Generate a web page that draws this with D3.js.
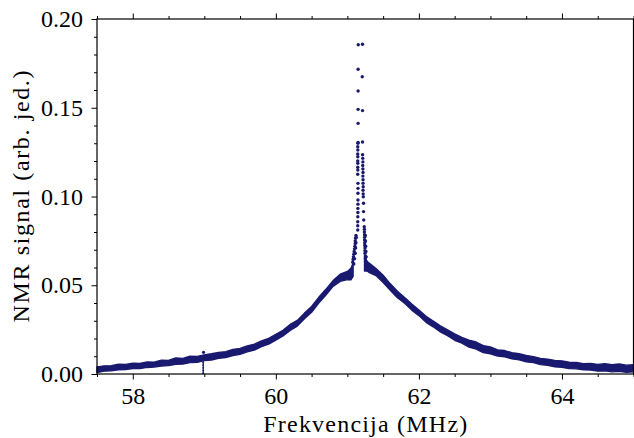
<!DOCTYPE html>
<html>
<head>
<meta charset="utf-8">
<script src="https://cdn.jsdelivr.net/npm/d3@7"></script>
<style>
  body { margin: 0; background: #fff; }
  svg { display: block; }
  .axis text { font-family: "Liberation Serif", "Times New Roman", serif; font-size: 24px; fill: #000; }
  .axis line { stroke: #000; stroke-width: 1; }
  .lbl { font-family: "Liberation Serif", "Times New Roman", serif; font-size: 24px; fill: #000; }
</style>
</head>
<body>
<div id="chart"></div>
<script>
const leftFreq = [57.5, 57.6, 57.7, 57.8, 57.9, 58.0, 58.1, 58.2, 58.3, 58.4, 58.5, 58.6, 58.7, 58.8, 58.9,
  59.0, 59.1, 59.2, 59.3, 59.4, 59.5, 59.6, 59.7, 59.8, 59.9, 60.0, 60.1, 60.2, 60.3, 60.4, 60.5,
  60.6, 60.7, 60.8, 60.9, 61.0, 61.05, 61.08];
const leftLo = [0.0008, 0.0016, 0.0018, 0.0024, 0.0025, 0.0031, 0.0030, 0.0037, 0.0039, 0.0045, 0.0047, 0.0055, 0.0056, 0.0064, 0.0066,
  0.0076, 0.0079, 0.0089, 0.0093, 0.0104, 0.0111, 0.0125, 0.0135, 0.0154, 0.0168, 0.0191, 0.0214, 0.0246, 0.0270, 0.0311, 0.0348,
  0.0400, 0.0445, 0.0494, 0.0522, 0.0532, 0.0530, 0.0550];
const leftHi = [0.0040, 0.0046, 0.0047, 0.0055, 0.0054, 0.0061, 0.0060, 0.0068, 0.0067, 0.0078, 0.0077, 0.0090, 0.0088, 0.0100, 0.0099,
  0.0108, 0.0114, 0.0121, 0.0126, 0.0138, 0.0144, 0.0158, 0.0168, 0.0186, 0.0201, 0.0224, 0.0246, 0.0279, 0.0302, 0.0343, 0.0380,
  0.0432, 0.0477, 0.0526, 0.0562, 0.0578, 0.0596, 0.0625];

const rightFreq = [61.24, 61.27, 61.3, 61.4, 61.5, 61.6, 61.7, 61.8, 61.9, 62.0, 62.1, 62.2, 62.3, 62.4, 62.5,
  62.6, 62.7, 62.8, 62.9, 63.0, 63.1, 63.2, 63.3, 63.4, 63.5, 63.6, 63.7, 63.8, 63.9, 64.0,
  64.1, 64.2, 64.3, 64.4, 64.5, 64.6, 64.7, 64.8, 64.9, 65.0];
const rightLo = [0.0580, 0.0582, 0.0573, 0.0555, 0.0515, 0.0472, 0.0430, 0.0399, 0.0360, 0.0329, 0.0291, 0.0266, 0.0237, 0.0216, 0.0190,
  0.0174, 0.0152, 0.0140, 0.0121, 0.0114, 0.0101, 0.0097, 0.0085, 0.0080, 0.0069, 0.0064, 0.0053, 0.0049, 0.0040, 0.0038,
  0.0030, 0.0029, 0.0023, 0.0022, 0.0016, 0.0018, 0.0012, 0.0015, 0.0010, 0.0013];
const rightHi = [0.0660, 0.0638, 0.0626, 0.0594, 0.0556, 0.0508, 0.0466, 0.0431, 0.0394, 0.0360, 0.0325, 0.0298, 0.0271, 0.0248, 0.0226,
  0.0206, 0.0190, 0.0180, 0.0160, 0.0152, 0.0136, 0.0132, 0.0120, 0.0114, 0.0104, 0.0098, 0.0088, 0.0084, 0.0076, 0.0074,
  0.0066, 0.0065, 0.0058, 0.0060, 0.0054, 0.0058, 0.0052, 0.0056, 0.0050, 0.0052];

// single resolved points of the sharp central peak
const peakFreq = [61.120, 61.115, 61.110, 61.110, 61.105, 61.100, 61.095, 61.090, 61.085, 61.080, 61.075,
  61.125, 61.120, 61.115, 61.110, 61.100, 61.090,
  61.145, 61.145, 61.145, 61.146, 61.147, 61.147, 61.148, 61.148, 61.148, 61.148, 61.148,
  61.145, 61.146, 61.145, 61.146, 61.145, 61.146, 61.145, 61.146, 61.145, 61.148, 61.150,
  61.150, 61.150, 61.150, 61.150, 61.152,
  61.212, 61.208, 61.212, 61.212,
  61.213, 61.215, 61.217, 61.215, 61.217, 61.219, 61.217, 61.219, 61.219, 61.221, 61.219, 61.221, 61.223,
  61.226, 61.226, 61.229,
  61.236, 61.238, 61.238, 61.241, 61.241, 61.241, 61.243, 61.243, 61.246, 61.246, 61.246, 61.251, 61.251, 61.256, 61.261,
  61.251, 61.253, 61.256, 61.259, 61.263];
const peakVal = [0.0780, 0.0765, 0.0750, 0.0735, 0.0720, 0.0705, 0.0690, 0.0675, 0.0660, 0.0645, 0.0630,
  0.0770, 0.0740, 0.0710, 0.0680, 0.0650, 0.0620,
  0.0811, 0.0835, 0.0858, 0.0886, 0.0910, 0.0933, 0.0957, 0.0980, 0.1018, 0.1046, 0.1074,
  0.1125, 0.1149, 0.1165, 0.1187, 0.1200, 0.1224, 0.1240, 0.1262, 0.1280, 0.1300, 0.1305,
  0.1412, 0.1491, 0.1594, 0.1717, 0.1855,
  0.1858, 0.1675, 0.1484, 0.1307,
  0.1235, 0.1215, 0.1195, 0.1175, 0.1155, 0.1135, 0.1115, 0.1095, 0.1075, 0.1055, 0.1035, 0.1015, 0.0999,
  0.0962, 0.0915, 0.0868,
  0.0830, 0.0815, 0.0800, 0.0785, 0.0770, 0.0755, 0.0740, 0.0725, 0.0710, 0.0695, 0.0680, 0.0665, 0.0650, 0.0635, 0.0620,
  0.0780, 0.0750, 0.0720, 0.0690, 0.0660];

// glitch near 59 MHz
const spikeFreq = [58.985, 58.985, 58.985, 58.985, 58.985, 58.985, 58.99];
const spikeVal = [0.0005, 0.0020, 0.0035, 0.0050, 0.0065, 0.0080, 0.0122];

const xMajor = [58, 60, 62, 64];
const xMinor = [57.5, 58.5, 59, 59.5, 60.5, 61, 61.5, 62.5, 63, 63.5, 64.5, 65];
const yMajor = [0.00, 0.05, 0.10, 0.15, 0.20];
const yMinor = [0.01, 0.02, 0.03, 0.04, 0.06, 0.07, 0.08, 0.09, 0.11, 0.12, 0.13, 0.14, 0.16, 0.17, 0.18, 0.19];

const setup = {
  W: 634, H: 438,
  margin: { left: 97, top: 19 },
  width: 536.5, height: 355,
  color: "#191970"
};

const svg = d3.select("#chart").append("svg")
  .attr("width", setup.W)
  .attr("height", setup.H);

const x = d3.scaleLinear().domain([57.5, 65]).range([0, setup.width]);
const y = d3.scaleLinear().domain([0, 0.2]).range([setup.height, 0]);

const g = svg.append("g")
  .attr("transform", `translate(${setup.margin.left},${setup.margin.top})`);

// data
const band = d3.area()
  .x(d => x(d[0]))
  .y0(d => y(d[1]))
  .y1(d => y(d[2]));

const wings = [
  leftFreq.map((f, i) => [f, leftLo[i], leftHi[i]]),
  rightFreq.map((f, i) => [f, rightLo[i], rightHi[i]])
];
g.append("g").selectAll("path")
  .data(wings)
  .enter().append("path")
    .attr("d", band)
    .attr("fill", setup.color)
    .attr("stroke", setup.color)
    .attr("stroke-width", 1.4)
    .attr("stroke-linejoin", "round");

g.append("g").selectAll("circle")
  .data(peakFreq.map((f, i) => [f, peakVal[i]]))
  .enter().append("circle")
    .attr("cx", d => x(d[0]))
    .attr("cy", d => y(d[1]))
    .attr("r", 1.7)
    .attr("fill", setup.color);

g.append("g").selectAll("circle")
  .data(spikeFreq.map((f, i) => [f, spikeVal[i]]))
  .enter().append("circle")
    .attr("cx", d => x(d[0]))
    .attr("cy", d => y(d[1]))
    .attr("r", (d, i) => i == spikeVal.length - 1 ? 1.6 : 0.9)
    .attr("fill", setup.color);
g.append("line")
  .attr("x1", x(spikeFreq[0])).attr("x2", x(spikeFreq[0]))
  .attr("y1", y(0)).attr("y2", y(spikeVal[spikeVal.length - 2]))
  .attr("stroke", setup.color).attr("stroke-width", 1.2);

// axes (ticks outward on all four sides)
const axisGroup = (axis, tx, ty) => {
  const a = g.append("g").attr("class", "axis")
    .attr("transform", `translate(${tx},${ty})`)
    .call(axis);
  a.select(".domain").remove();
  return a;
};

axisGroup(d3.axisBottom(x).tickValues(xMajor).tickSize(5.5).tickPadding(7).tickFormat(d3.format("d")), 0, setup.height);
axisGroup(d3.axisBottom(x).tickValues(xMinor).tickSize(3).tickFormat(""), 0, setup.height);
axisGroup(d3.axisTop(x).tickValues(xMajor).tickSize(5.5).tickFormat(""), 0, 0);
axisGroup(d3.axisTop(x).tickValues(xMinor).tickSize(3).tickFormat(""), 0, 0);

axisGroup(d3.axisLeft(y).tickValues(yMajor).tickSize(5.5).tickPadding(8.5).tickFormat(d3.format(".2f")), 0, 0);
axisGroup(d3.axisLeft(y).tickValues(yMinor).tickSize(3).tickFormat(""), 0, 0);
axisGroup(d3.axisRight(y).tickValues(yMajor).tickSize(5.5).tickFormat(""), setup.width, 0);
axisGroup(d3.axisRight(y).tickValues(yMinor).tickSize(3).tickFormat(""), setup.width, 0);

g.selectAll(".axis").attr("font-family", null).attr("font-size", null);

g.append("rect")
  .attr("width", setup.width)
  .attr("height", setup.height)
  .attr("fill", "none")
  .attr("stroke", "#000")
  .attr("stroke-width", 1.2);

// labels
svg.append("text")
  .attr("class", "lbl")
  .attr("x", setup.margin.left + setup.width / 2)
  .attr("y", 432)
  .attr("text-anchor", "middle")
  .attr("textLength", 204)
  .attr("lengthAdjust", "spacing")
  .text("Frekvencija (MHz)");

svg.append("text")
  .attr("class", "lbl")
  .attr("transform", `translate(28.5,${setup.margin.top + setup.height / 2}) rotate(-90)`)
  .attr("text-anchor", "middle")
  .attr("textLength", 252)
  .attr("lengthAdjust", "spacing")
  .text("NMR signal (arb. jed.)");
</script>
</body>
</html>
